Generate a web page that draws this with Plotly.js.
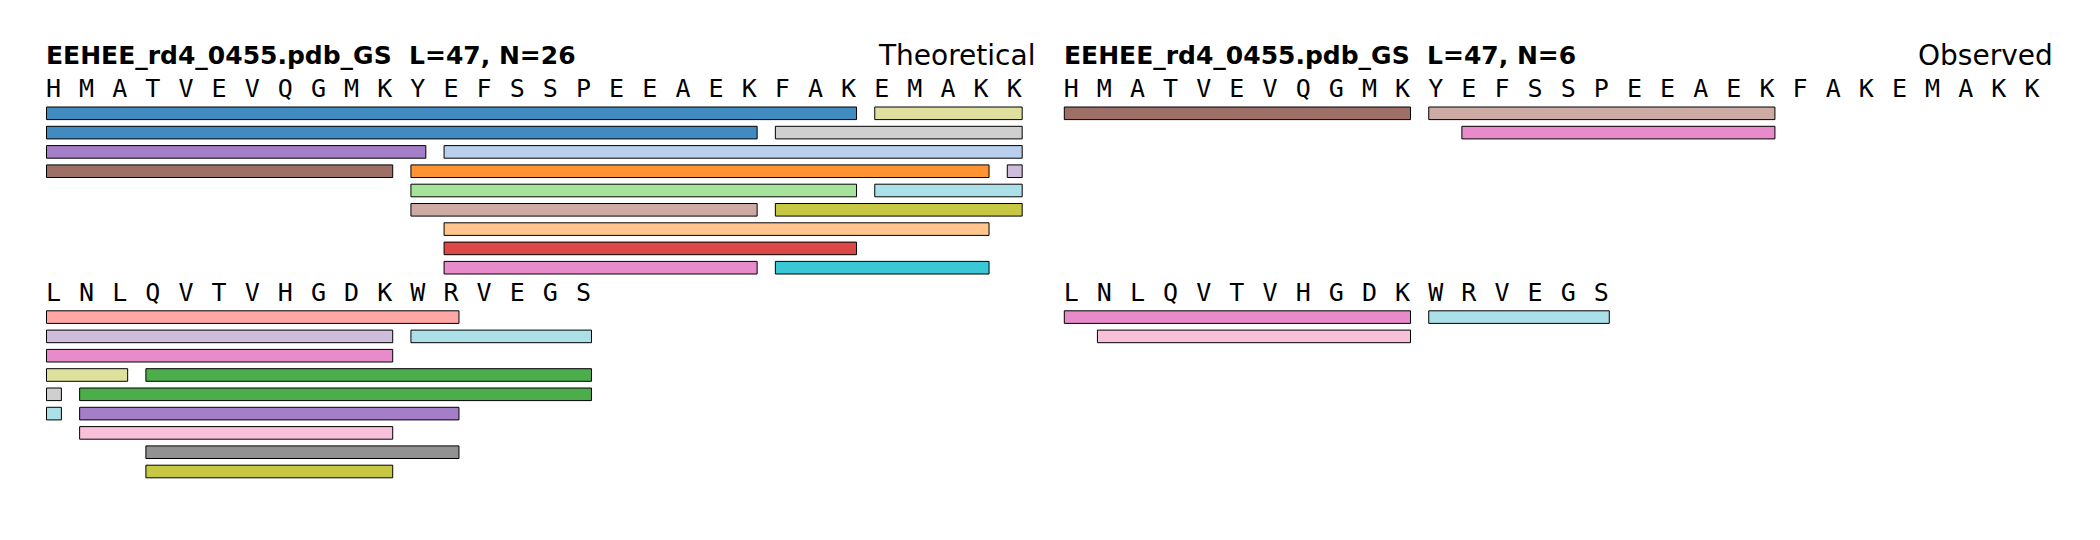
<!DOCTYPE html>
<html>
<head>
<meta charset="utf-8">
<script src="https://cdn.plot.ly/plotly-3.0.1.min.js"></script>
<style>html,body{margin:0;padding:0;background:#fff;}#chart{width:2100px;height:540px;}</style>
</head>
<body>
<div id="chart"></div>
<script>
// ---------------- DATA ----------------
const sequence = "HMATVEVQGMKYEFSSPEEAEKFAKEMAKKLNLQVTVHGDKWRVEGS";
const lineLength = 30;
const titleLeft = "EEHEE_rd4_0455.pdb_GS\u00a0 L=47, N=26";
const titleRight = "EEHEE_rd4_0455.pdb_GS\u00a0 L=47, N=6";
const labelLeft = "Theoretical";
const labelRight = "Observed";

// tab20 palette
const palette = ["#1f77b4","#aec7e8","#ff7f0e","#ffbb78","#2ca02c","#98df8a","#d62728","#ff9896",
                 "#9467bd","#c5b0d5","#8c564b","#c49c94","#e377c2","#f7b6d2","#7f7f7f","#c7c7c7",
                 "#bcbd22","#dbdb8d","#17becf","#9edae5"];

// Theoretical fragments (block = wrapped sequence line, lane = row under it, start/end = residue index in the line)
const theoBlock = [0,0, 0,0, 0,0, 0,0,0, 0,0, 0,0, 0, 0, 0,0, 1, 1,1, 1, 1,1, 1,1, 1,1, 1, 1, 1];
const theoLane  = [1,1, 2,2, 3,3, 4,4,4, 5,5, 6,6, 7, 8, 9,9, 1, 2,2, 3, 4,4, 5,5, 6,6, 7, 8, 9];
const theoStart = [0,25, 0,22, 0,12, 0,11,29, 11,25, 11,22, 12, 12, 12,22, 0, 0,11, 0, 0,3, 0,1, 0,1, 1, 3, 3];
const theoEnd   = [24,29, 21,29, 11,29, 10,28,29, 24,29, 21,29, 28, 24, 21,28, 12, 10,16, 10, 2,16, 0,16, 0,12, 10, 12, 10];
const theoColor = [0,17, 0,15, 8,1, 10,2,9, 5,19, 11,16, 3, 6, 12,18, 7, 9,19, 12, 17,4, 15,4, 19,8, 13, 14, 16];

// Observed fragments
const obsBlock = [0,0,0,1,1,1];
const obsLane  = [1,1,2,1,1,2];
const obsStart = [0,11,12,0,11,1];
const obsEnd   = [10,21,21,10,16,10];
const obsColor = [10,11,12,12,19,13];

// ---------------- LAYOUT HELPERS ----------------
const W = 2100, H = 540;
const cell = 33.13;
const leftX0 = 46.5, rightX0 = 1064.3;
const blockTop = [86.7, 290.5];
const textShift = 4;
const firstGap = 26.6, rowStep = 19.3;
const glyphW = 0.45;

function laneY(block, lane) {
  return lane === 0 ? blockTop[block] + textShift : blockTop[block] + firstGap + (lane - 1) * rowStep;
}
function rgba(hex, a) {
  const r = parseInt(hex.slice(1,3),16), g = parseInt(hex.slice(3,5),16), b = parseInt(hex.slice(5,7),16);
  return `rgba(${r},${g},${b},${a})`;
}

function barTrace(block, lane, start, end, color, xa) {
  return {
    type: 'bar', orientation: 'h', xaxis: xa, yaxis: 'y',
    base: start,
    x: start.map((s, i) => end[i] - s + glyphW),
    y: block.map((b, i) => laneY(b, lane[i])),
    width: 12.6,
    marker: { color: color.map(c => rgba(palette[c], 0.85)), line: { color: '#000', width: 1 } },
    hoverinfo: 'skip', showlegend: false
  };
}

function seqTrace(xa) {
  const xs = [], ys = [], ts = [];
  for (let i = 0; i < sequence.length; i++) {
    const block = Math.floor(i / lineLength), pos = i % lineLength;
    xs.push(pos + 0.21); ys.push(laneY(block, 0)); ts.push(sequence[i]);
  }
  return {
    type: 'scatter', mode: 'text', xaxis: xa, yaxis: 'y',
    x: xs, y: ys, text: ts, textposition: 'middle center',
    textfont: { family: 'DejaVu Sans Mono', size: 25, color: '#000' },
    hoverinfo: 'skip', showlegend: false
  };
}

const data = [
  barTrace(theoBlock, theoLane, theoStart, theoEnd, theoColor, 'x'),
  seqTrace('x'),
  barTrace(obsBlock, obsLane, obsStart, obsEnd, obsColor, 'x2'),
  seqTrace('x2')
];

const axisHidden = { showgrid: false, zeroline: false, showticklabels: false, showline: false, ticks: '' };
const xr = [-0.5, 30.5];
const layout = {
  width: W, height: H,
  margin: { l: 0, r: 0, t: 0, b: 0 },
  paper_bgcolor: '#fff', plot_bgcolor: 'rgba(0,0,0,0)',
  barmode: 'overlay',
  xaxis: Object.assign({ domain: [(leftX0 + xr[0] * cell) / W, (leftX0 + xr[1] * cell) / W], range: xr, anchor: 'y' }, axisHidden),
  xaxis2: Object.assign({ domain: [(rightX0 + xr[0] * cell) / W, (rightX0 + xr[1] * cell) / W], range: xr, anchor: 'y' }, axisHidden),
  yaxis: Object.assign({ domain: [0, 1], range: [H, 0] }, axisHidden),
  annotations: [
    { xref: 'x', yref: 'y', x: -0.08, y: 55, xanchor: 'left', yanchor: 'middle', showarrow: false,
      text: '<b>' + titleLeft + '</b>', font: { family: 'DejaVu Sans', size: 25, color: '#000' } },
    { xref: 'x', yref: 'y', x: 29.9, y: 55, xanchor: 'right', yanchor: 'middle', showarrow: false,
      text: labelLeft, font: { family: 'DejaVu Sans', size: 28, color: '#000' } },
    { xref: 'x2', yref: 'y', x: -0.08, y: 55, xanchor: 'left', yanchor: 'middle', showarrow: false,
      text: '<b>' + titleRight + '</b>', font: { family: 'DejaVu Sans', size: 25, color: '#000' } },
    { xref: 'x2', yref: 'y', x: 29.9, y: 55, xanchor: 'right', yanchor: 'middle', showarrow: false,
      text: labelRight, font: { family: 'DejaVu Sans', size: 28, color: '#000' } }
  ]
};

Plotly.newPlot('chart', data, layout, { staticPlot: true, displayModeBar: false });
</script>
</body>
</html>
